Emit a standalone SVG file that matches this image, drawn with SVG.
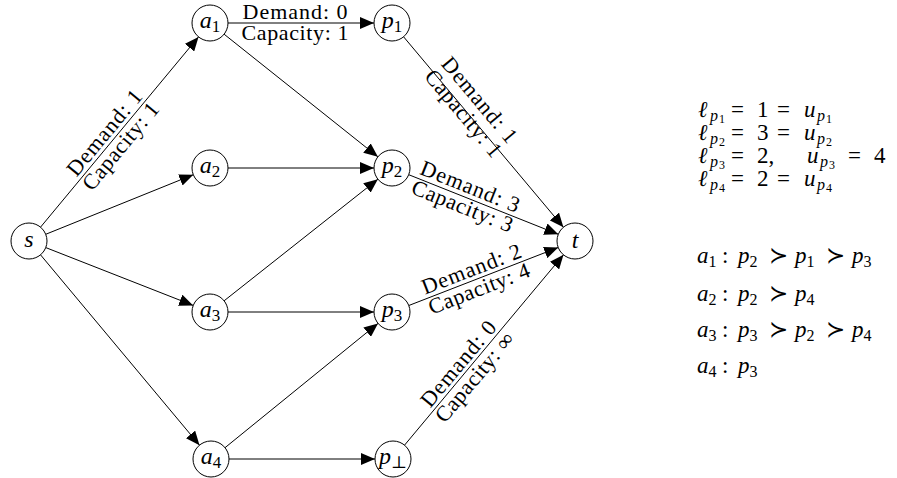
<svg xmlns="http://www.w3.org/2000/svg" width="897" height="478" viewBox="0 0 897 478">
<style>
.nc { fill: #fff; stroke: #000; stroke-width: 1; }
.ed { stroke: #000; stroke-width: 1; fill: none; marker-end: url(#arr); }
text { font-family: "Liberation Serif", "DejaVu Serif", serif; fill: #000; }
.nl { font-size: 24px; text-anchor: middle; font-style: italic; }
.sub { font-size: 17px; font-style: normal; }
.lb { font-size: 22px; text-anchor: middle; }
.m { font-size: 23px; }
.mi { font-style: italic; }
.ms { font-size: 16px; }
.mss { font-size: 12px; font-style: normal; }
</style>
<defs>
<marker id="arr" viewBox="0 0 14 12" refX="14" refY="6" markerWidth="14" markerHeight="12" markerUnits="userSpaceOnUse" orient="auto">
<path d="M0,0 L14,6 L0,12 z" fill="#000"/>
</marker>
</defs>
<rect width="897" height="478" fill="#fff"/>
<g id="connectors">
<line class="ed" x1="40.5" y1="227.2" x2="198.5" y2="36.9"/>
<line class="ed" x1="45.7" y1="234.3" x2="193.3" y2="174.7"/>
<line class="ed" x1="45.8" y1="247.6" x2="193.2" y2="305.4"/>
<line class="ed" x1="40.5" y1="254.8" x2="199.5" y2="445.2"/>
<line class="ed" x1="228" y1="23" x2="374" y2="23"/>
<line class="ed" x1="224.1" y1="34.2" x2="377.9" y2="156.8"/>
<line class="ed" x1="228" y1="168" x2="374" y2="168"/>
<line class="ed" x1="224.1" y1="300.8" x2="377.9" y2="179.2"/>
<line class="ed" x1="228" y1="312" x2="374" y2="312"/>
<line class="ed" x1="225" y1="447.7" x2="378" y2="323.4"/>
<line class="ed" x1="229" y1="459" x2="375" y2="459"/>
<line class="ed" x1="403.6" y1="36.8" x2="563.4" y2="227.2"/>
<line class="ed" x1="408.7" y1="174.7" x2="558.3" y2="234.3"/>
<line class="ed" x1="408.8" y1="305.5" x2="558.2" y2="247.5"/>
<line class="ed" x1="404.5" y1="445.2" x2="563.5" y2="254.8"/>
<g transform="translate(113,140) rotate(-50.3)">
<text class="lb" x="0" y="-4" textLength="105">Demand: 1</text>
<text class="lb" x="0" y="17" textLength="107">Capacity: 1</text>
</g>
<g transform="translate(295,23)">
<text class="lb" x="0" y="-4" textLength="105">Demand: 0</text>
<text class="lb" x="0" y="17" textLength="107">Capacity: 1</text>
</g>
<g transform="translate(471,107) rotate(50)">
<text class="lb" x="0" y="-4" textLength="105">Demand: 1</text>
<text class="lb" x="0" y="17" textLength="107">Capacity: 1</text>
</g>
<g transform="translate(466,197) rotate(21.75)">
<text class="lb" x="0" y="-4" textLength="105">Demand: 3</text>
<text class="lb" x="0" y="17" textLength="107">Capacity: 3</text>
</g>
<g transform="translate(475.5,279.6) rotate(-21.2)">
<text class="lb" x="0" y="-4" textLength="105">Demand: 2</text>
<text class="lb" x="0" y="17" textLength="107">Capacity: 4</text>
</g>
<g transform="translate(467,371) rotate(-50.1)">
<text class="lb" x="0" y="-4" textLength="105">Demand: 0</text>
<text class="lb" x="0" y="17" textLength="110">Capacity: ∞</text>
</g>
</g>
<g id="s"><circle class="nc" cx="29" cy="241" r="18"/><text class="nl" x="29" y="247">s</text></g>
<g id="a1"><circle class="nc" cx="210" cy="23" r="18"/><text class="nl" x="210" y="28">a<tspan class="sub" dy="4">1</tspan></text></g>
<g id="a2"><circle class="nc" cx="210" cy="168" r="18"/><text class="nl" x="210" y="173">a<tspan class="sub" dy="4">2</tspan></text></g>
<g id="a3"><circle class="nc" cx="210" cy="312" r="18"/><text class="nl" x="210" y="317">a<tspan class="sub" dy="4">3</tspan></text></g>
<g id="a4"><circle class="nc" cx="211" cy="459" r="18"/><text class="nl" x="211" y="464">a<tspan class="sub" dy="4">4</tspan></text></g>
<g id="p1"><circle class="nc" cx="392" cy="23" r="18"/><text class="nl" x="392" y="28">p<tspan class="sub" dy="4">1</tspan></text></g>
<g id="p2"><circle class="nc" cx="392" cy="168" r="18"/><text class="nl" x="392" y="173">p<tspan class="sub" dy="4">2</tspan></text></g>
<g id="p3"><circle class="nc" cx="392" cy="312" r="18"/><text class="nl" x="392" y="317">p<tspan class="sub" dy="4">3</tspan></text></g>
<g id="pbot"><circle class="nc" cx="393" cy="459" r="18"/><text class="nl" x="393" y="464">p<tspan class="sub" dy="4">⊥</tspan></text></g>
<g id="t"><circle class="nc" cx="575" cy="241" r="18"/><text class="nl" x="575" y="248">t</text></g>
<g id="bounds">
<text class="m" y="117"><tspan class="mi" x="698">ℓ</tspan><tspan class="ms mi" x="710" dy="4">p</tspan><tspan class="mss" x="719" dy="2">1</tspan><tspan x="731" dy="-6">=</tspan><tspan x="757">1</tspan><tspan x="777">=</tspan><tspan class="mi" x="804">u</tspan><tspan class="ms mi" x="817" dy="4">p</tspan><tspan class="mss" x="826" dy="2">1</tspan></text>
<text class="m" y="140"><tspan class="mi" x="698">ℓ</tspan><tspan class="ms mi" x="710" dy="4">p</tspan><tspan class="mss" x="719" dy="2">2</tspan><tspan x="731" dy="-6">=</tspan><tspan x="757">3</tspan><tspan x="777">=</tspan><tspan class="mi" x="804">u</tspan><tspan class="ms mi" x="817" dy="4">p</tspan><tspan class="mss" x="826" dy="2">2</tspan></text>
<text class="m" y="163"><tspan class="mi" x="698">ℓ</tspan><tspan class="ms mi" x="710" dy="4">p</tspan><tspan class="mss" x="719" dy="2">3</tspan><tspan x="731" dy="-6">=</tspan><tspan x="757">2,</tspan><tspan class="mi" x="807">u</tspan><tspan class="ms mi" x="820" dy="4">p</tspan><tspan class="mss" x="829" dy="2">3</tspan><tspan x="848" dy="-6">=</tspan><tspan x="874">4</tspan></text>
<text class="m" y="186"><tspan class="mi" x="698">ℓ</tspan><tspan class="ms mi" x="710" dy="4">p</tspan><tspan class="mss" x="719" dy="2">4</tspan><tspan x="731" dy="-6">=</tspan><tspan x="757">2</tspan><tspan x="777">=</tspan><tspan class="mi" x="804">u</tspan><tspan class="ms mi" x="817" dy="4">p</tspan><tspan class="mss" x="826" dy="2">4</tspan></text>
</g>
<g id="prefs">
<text class="m" y="263"><tspan class="mi" x="697">a</tspan><tspan class="ms" dy="4">1</tspan><tspan x="722" dy="-4">:</tspan><tspan class="mi" x="738">p</tspan><tspan class="ms" dy="4">2</tspan><tspan x="769" dy="-4">≻</tspan><tspan class="mi" x="795">p</tspan><tspan class="ms" dy="4">1</tspan><tspan x="826" dy="-4">≻</tspan><tspan class="mi" x="852">p</tspan><tspan class="ms" dy="4">3</tspan></text>
<text class="m" y="301"><tspan class="mi" x="697">a</tspan><tspan class="ms" dy="4">2</tspan><tspan x="722" dy="-4">:</tspan><tspan class="mi" x="738">p</tspan><tspan class="ms" dy="4">2</tspan><tspan x="769" dy="-4">≻</tspan><tspan class="mi" x="795">p</tspan><tspan class="ms" dy="4">4</tspan></text>
<text class="m" y="337"><tspan class="mi" x="697">a</tspan><tspan class="ms" dy="4">3</tspan><tspan x="722" dy="-4">:</tspan><tspan class="mi" x="738">p</tspan><tspan class="ms" dy="4">3</tspan><tspan x="769" dy="-4">≻</tspan><tspan class="mi" x="795">p</tspan><tspan class="ms" dy="4">2</tspan><tspan x="826" dy="-4">≻</tspan><tspan class="mi" x="852">p</tspan><tspan class="ms" dy="4">4</tspan></text>
<text class="m" y="373"><tspan class="mi" x="697">a</tspan><tspan class="ms" dy="4">4</tspan><tspan x="722" dy="-4">:</tspan><tspan class="mi" x="738">p</tspan><tspan class="ms" dy="4">3</tspan></text>
</g>
</svg>
